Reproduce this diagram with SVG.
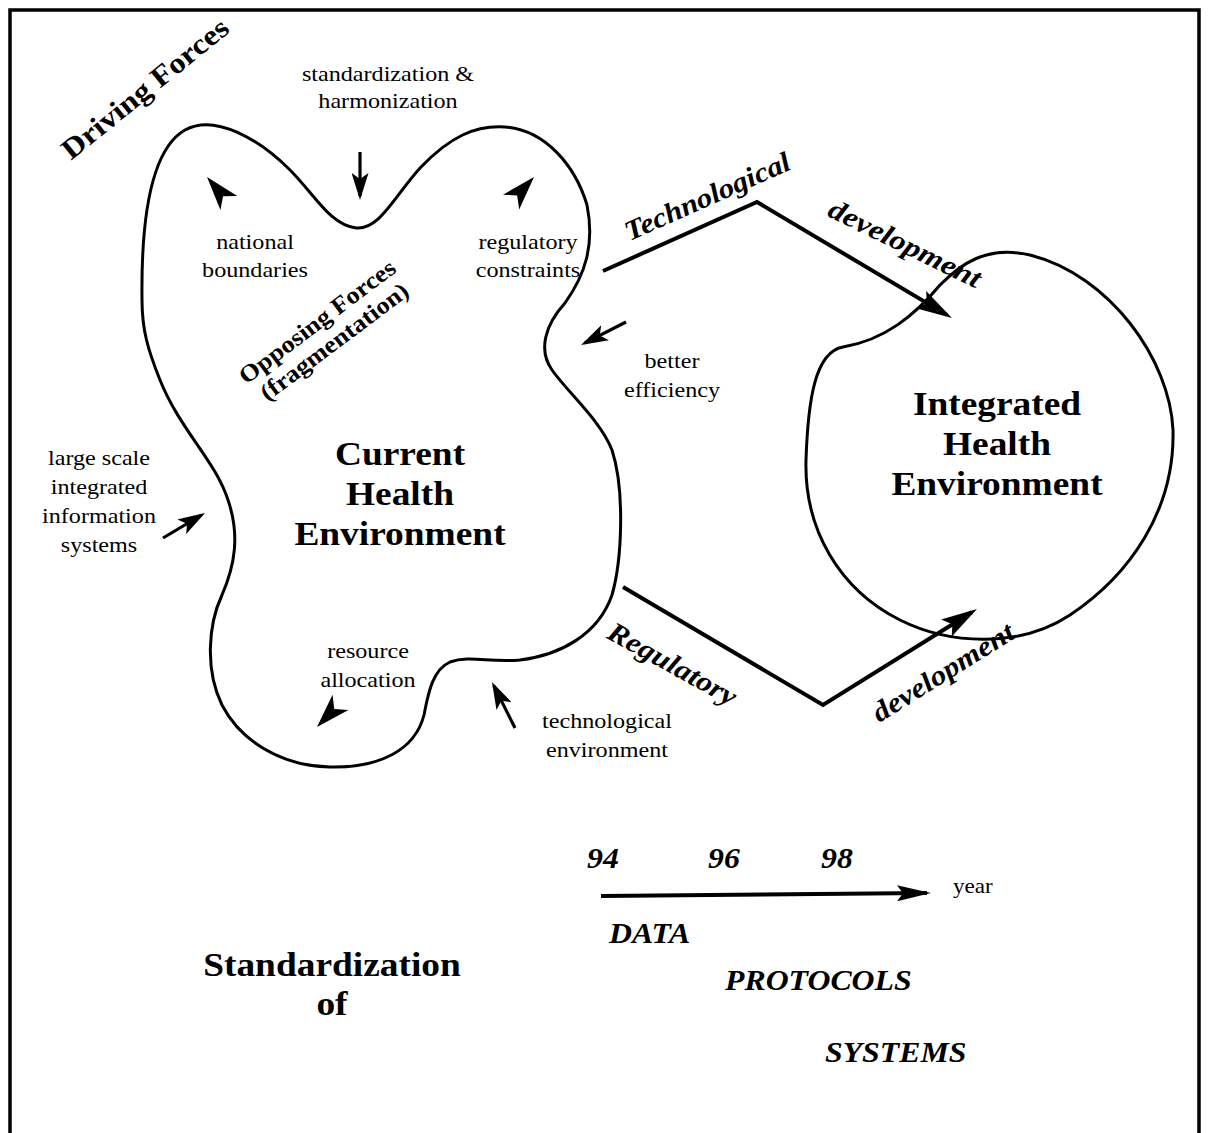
<svg xmlns="http://www.w3.org/2000/svg" xmlns:xlink="http://www.w3.org/1999/xlink" width="1208" height="1133" viewBox="0 0 1208 1133">
<style>
  .blob { fill: none; stroke: #000; stroke-width: 3; stroke-linejoin: round; }
  .frame { fill: none; stroke: #000; stroke-width: 3.5; }
  .big { fill: none; stroke: #000; stroke-width: 4; stroke-linecap: butt; stroke-linejoin: miter; }
  .thin { fill: none; stroke: #000; stroke-width: 3.2; }
  .t { font-family: "Liberation Serif", "Times New Roman", serif; fill: #000; }
  .s { font-size: 21px; }
  .b { font-size: 34px; font-weight: bold; }
  .bi { font-size: 30px; font-weight: bold; font-style: italic; }
  .ri { font-size: 28px; font-weight: bold; font-style: italic; }
  .rb { font-weight: bold; }
  .m { text-anchor: middle; }
</style>
<defs>
  <marker id="bigHead" viewBox="0 0 36 20" refX="30" refY="10" markerWidth="36" markerHeight="20" markerUnits="userSpaceOnUse" orient="auto">
    <path d="M0,0 L36,10 L0,20 L7,10 Z" fill="#000"/>
  </marker>
  <marker id="midHead" viewBox="0 0 34 16" refX="30" refY="8" markerWidth="34" markerHeight="16" markerUnits="userSpaceOnUse" orient="auto">
    <path d="M0,0 L34,8 L0,16 L6,8 Z" fill="#000"/>
  </marker>
  <marker id="smallHead" viewBox="0 0 27 17" refX="23" refY="8.5" markerWidth="27" markerHeight="17" markerUnits="userSpaceOnUse" orient="auto">
    <path d="M0,0 L27,8.5 L0,17 L6,8.5 Z" fill="#000"/>
  </marker>
  <path id="dart" d="M0,0 L-34,-11 L-25,0 L-34,11 Z" fill="#000"/>
</defs>

<rect x="0" y="0" width="1208" height="1133" fill="#fff"/>
<path class="frame" d="M10,1140 V10 H1199 V1140"/>

<g id="current-health-environment">
  <path class="blob" d="M142,300 C141,220 150,150 185,130 C215,113 260,140 290,170 C315,195 330,225 356,228 C380,230 395,195 421,167 C450,137 475,125 505,127 C545,130 575,165 587,205 C595,245 585,275 565,303 C545,325 538,350 552,370 C570,395 600,420 612,450 C625,490 622,560 612,595 C598,635 560,655 520,660 C490,663 470,655 450,662 C432,670 428,695 424,715 C415,750 380,768 330,767 C280,766 240,740 222,705 C205,670 208,625 222,595 C235,565 240,535 228,500 C215,460 180,430 160,380 C148,350 142,330 142,300 Z"/>
  <text class="t b m" transform="translate(400,465) scale(1.1,1)"><tspan x="0">Current</tspan><tspan x="0" dy="40">Health</tspan><tspan x="0" dy="40">Environment</tspan></text>
</g>

<g id="integrated-health-environment">
  <path class="blob" d="M843,347 C815,352 808,400 806,460 C804,530 840,590 900,620 C950,645 1020,648 1070,615 C1130,575 1175,510 1173,430 C1170,360 1110,275 1030,255 C985,245 960,265 940,285 C915,315 885,340 843,347 Z"/>
  <text class="t b m" transform="translate(997,415) scale(1.1,1)"><tspan x="0">Integrated</tspan><tspan x="0" dy="40">Health</tspan><tspan x="0" dy="40">Environment</tspan></text>
</g>

<g id="connectors">
  <polyline class="big" points="603,271 757,202 946.8,314.9" marker-end="url(#bigHead)"/>
  <polyline class="big" points="623,587 823,705 971.9,612.2" marker-end="url(#bigHead)"/>
  <line class="big" x1="601" y1="896" x2="927" y2="893" marker-end="url(#midHead)"/>
  <line class="thin" x1="360" y1="152" x2="360" y2="196" marker-end="url(#smallHead)"/>
  <line class="thin" x1="626" y1="322" x2="584.6" y2="343.2" marker-end="url(#smallHead)"/>
  <line class="thin" x1="163" y1="538" x2="201.6" y2="515" marker-end="url(#smallHead)"/>
  <line class="thin" x1="515" y1="728" x2="493.8" y2="685.6" marker-end="url(#smallHead)"/>
  <use href="#dart" xlink:href="#dart" transform="translate(207,177) rotate(-130)"/>
  <use href="#dart" xlink:href="#dart" transform="translate(534,177) rotate(-47.6)"/>
  <use href="#dart" xlink:href="#dart" transform="translate(317,727) rotate(133.7)"/>
</g>

<g id="labels">
  <text class="t rb m" font-size="29" transform="translate(151,96) rotate(-39) scale(1.12,1)">Driving Forces</text>
  <text class="t rb m" font-size="24" transform="translate(322,328) rotate(-37) scale(1.1,1)">Opposing Forces</text>
  <text class="t rb m" font-size="24" transform="translate(339,348) rotate(-37) scale(1.1,1)">(fragmentation)</text>
  <text class="t s m" transform="translate(388,81) scale(1.15,1)"><tspan x="0">standardization &amp;</tspan><tspan x="0" dy="27">harmonization</tspan></text>
  <text class="t s m" transform="translate(255,249) scale(1.15,1)"><tspan x="0">national</tspan><tspan x="0" dy="28">boundaries</tspan></text>
  <text class="t s m" transform="translate(528,249) scale(1.15,1)"><tspan x="0">regulatory</tspan><tspan x="0" dy="28">constraints</tspan></text>
  <text class="t s m" transform="translate(672,368) scale(1.15,1)"><tspan x="0">better</tspan><tspan x="0" dy="29">efficiency</tspan></text>
  <text class="t s m" transform="translate(99,465) scale(1.15,1)"><tspan x="0">large scale</tspan><tspan x="0" dy="29">integrated</tspan><tspan x="0" dy="29">information</tspan><tspan x="0" dy="29">systems</tspan></text>
  <text class="t s m" transform="translate(368,658) scale(1.15,1)"><tspan x="0">resource</tspan><tspan x="0" dy="29">allocation</tspan></text>
  <text class="t s m" transform="translate(607,728) scale(1.15,1)"><tspan x="0">technological</tspan><tspan x="0" dy="29">environment</tspan></text>
  <text class="t ri m" transform="translate(711,205) rotate(-24) scale(1.1,1)">Technological</text>
  <text class="t ri m" transform="translate(901,252) rotate(26) scale(1.15,1)">development</text>
  <text class="t ri m" transform="translate(668,672) rotate(29) scale(1.12,1)">Regulatory</text>
  <text class="t ri m" transform="translate(948,680) rotate(-32) scale(1.12,1)">development</text>
  <text class="t bi" transform="translate(587,868) scale(1.06,1)">94</text>
  <text class="t bi" transform="translate(708,868) scale(1.06,1)">96</text>
  <text class="t bi" transform="translate(821,868) scale(1.06,1)">98</text>
  <text class="t s" font-size="19" transform="translate(953,893) scale(1.1,1)">year</text>
  <text class="t bi" transform="translate(609,943) scale(1.06,1)">DATA</text>
  <text class="t bi" transform="translate(725,990) scale(1.06,1)">PROTOCOLS</text>
  <text class="t bi" transform="translate(825,1062) scale(1.06,1)">SYSTEMS</text>
  <text class="t b m" transform="translate(332,976) scale(1.1,1)"><tspan x="0">Standardization</tspan><tspan x="0" dy="39">of</tspan></text>
</g>
</svg>
